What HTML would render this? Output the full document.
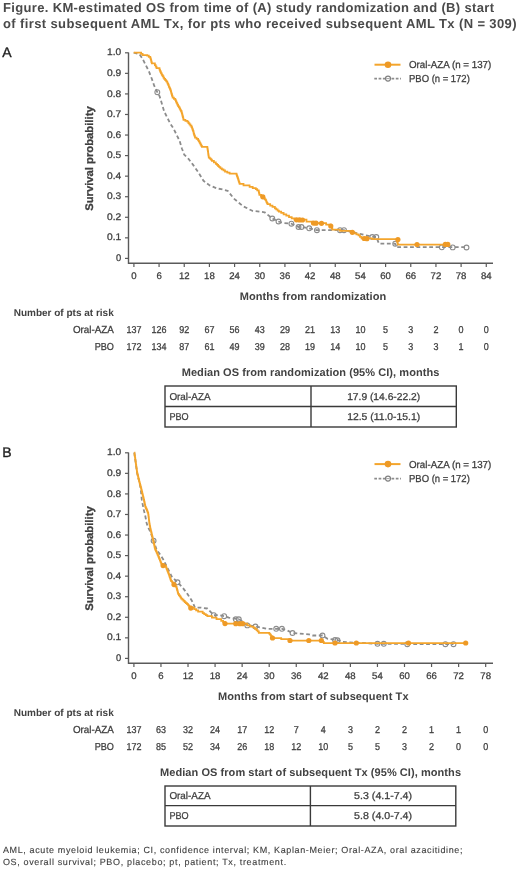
<!DOCTYPE html>
<html><head><meta charset="utf-8"><title>KM-estimated OS</title>
<style>
html,body{margin:0;padding:0;background:#fff;}
body{width:520px;height:869px;overflow:hidden;font-family:"Liberation Sans", sans-serif;}
svg{display:block;will-change:transform;}
</style></head><body>
<svg width="520" height="869" viewBox="0 0 520 869" text-rendering="geometricPrecision" font-family='"Liberation Sans", sans-serif'>
<rect width="520" height="869" fill="#fff"/>
<text x="3" y="12" font-size="13" font-weight="bold" text-anchor="start" fill="#4a4a4a" textLength="491" lengthAdjust="spacing">Figure. KM-estimated OS from time of (A) study randomization and (B) start</text>
<text x="3" y="27.7" font-size="13" font-weight="bold" text-anchor="start" fill="#4a4a4a" textLength="513.5" lengthAdjust="spacing">of first subsequent AML Tx, for pts who received subsequent AML Tx (N = 309)</text>
<text x="2.2" y="56.8" font-size="14" font-weight="normal" text-anchor="start" fill="#1e1e1e" stroke="#1e1e1e" stroke-width="0.35">A</text>
<path d="M128.5 52.4 V263.3 H493" stroke="#5a5a5a" stroke-width="1.4" fill="none"/>
<path d="M125 258.40 H128.5" stroke="#5a5a5a" stroke-width="1.2"/>
<text x="121.2" y="261.0" font-size="9.6" font-weight="normal" text-anchor="end" fill="#3f3f3f" textLength="5.2" lengthAdjust="spacingAndGlyphs" stroke="#3f3f3f" stroke-width="0.28">0</text>
<path d="M125 237.84 H128.5" stroke="#5a5a5a" stroke-width="1.2"/>
<text x="121.2" y="240.43999999999997" font-size="9.6" font-weight="normal" text-anchor="end" fill="#3f3f3f" textLength="14.2" lengthAdjust="spacingAndGlyphs" stroke="#3f3f3f" stroke-width="0.28">0.1</text>
<path d="M125 217.28 H128.5" stroke="#5a5a5a" stroke-width="1.2"/>
<text x="121.2" y="219.87999999999997" font-size="9.6" font-weight="normal" text-anchor="end" fill="#3f3f3f" textLength="14.2" lengthAdjust="spacingAndGlyphs" stroke="#3f3f3f" stroke-width="0.28">0.2</text>
<path d="M125 196.72 H128.5" stroke="#5a5a5a" stroke-width="1.2"/>
<text x="121.2" y="199.31999999999996" font-size="9.6" font-weight="normal" text-anchor="end" fill="#3f3f3f" textLength="14.2" lengthAdjust="spacingAndGlyphs" stroke="#3f3f3f" stroke-width="0.28">0.3</text>
<path d="M125 176.16 H128.5" stroke="#5a5a5a" stroke-width="1.2"/>
<text x="121.2" y="178.75999999999996" font-size="9.6" font-weight="normal" text-anchor="end" fill="#3f3f3f" textLength="14.2" lengthAdjust="spacingAndGlyphs" stroke="#3f3f3f" stroke-width="0.28">0.4</text>
<path d="M125 155.60 H128.5" stroke="#5a5a5a" stroke-width="1.2"/>
<text x="121.2" y="158.19999999999996" font-size="9.6" font-weight="normal" text-anchor="end" fill="#3f3f3f" textLength="14.2" lengthAdjust="spacingAndGlyphs" stroke="#3f3f3f" stroke-width="0.28">0.5</text>
<path d="M125 135.04 H128.5" stroke="#5a5a5a" stroke-width="1.2"/>
<text x="121.2" y="137.64" font-size="9.6" font-weight="normal" text-anchor="end" fill="#3f3f3f" textLength="14.2" lengthAdjust="spacingAndGlyphs" stroke="#3f3f3f" stroke-width="0.28">0.6</text>
<path d="M125 114.48 H128.5" stroke="#5a5a5a" stroke-width="1.2"/>
<text x="121.2" y="117.07999999999998" font-size="9.6" font-weight="normal" text-anchor="end" fill="#3f3f3f" textLength="14.2" lengthAdjust="spacingAndGlyphs" stroke="#3f3f3f" stroke-width="0.28">0.7</text>
<path d="M125 93.92 H128.5" stroke="#5a5a5a" stroke-width="1.2"/>
<text x="121.2" y="96.51999999999995" font-size="9.6" font-weight="normal" text-anchor="end" fill="#3f3f3f" textLength="14.2" lengthAdjust="spacingAndGlyphs" stroke="#3f3f3f" stroke-width="0.28">0.8</text>
<path d="M125 73.36 H128.5" stroke="#5a5a5a" stroke-width="1.2"/>
<text x="121.2" y="75.95999999999998" font-size="9.6" font-weight="normal" text-anchor="end" fill="#3f3f3f" textLength="14.2" lengthAdjust="spacingAndGlyphs" stroke="#3f3f3f" stroke-width="0.28">0.9</text>
<path d="M125 52.80 H128.5" stroke="#5a5a5a" stroke-width="1.2"/>
<text x="121.2" y="55.399999999999984" font-size="9.6" font-weight="normal" text-anchor="end" fill="#3f3f3f" textLength="14.2" lengthAdjust="spacingAndGlyphs" stroke="#3f3f3f" stroke-width="0.28">1.0</text>
<path d="M133.90 263.3 V267" stroke="#5a5a5a" stroke-width="1.2"/>
<text x="133.9" y="279.4" font-size="9.6" font-weight="normal" text-anchor="middle" fill="#3f3f3f" stroke="#3f3f3f" stroke-width="0.28">0</text>
<path d="M159.07 263.3 V267" stroke="#5a5a5a" stroke-width="1.2"/>
<text x="159.07" y="279.4" font-size="9.6" font-weight="normal" text-anchor="middle" fill="#3f3f3f" stroke="#3f3f3f" stroke-width="0.28">6</text>
<path d="M184.24 263.3 V267" stroke="#5a5a5a" stroke-width="1.2"/>
<text x="184.24" y="279.4" font-size="9.6" font-weight="normal" text-anchor="middle" fill="#3f3f3f" stroke="#3f3f3f" stroke-width="0.28">12</text>
<path d="M209.41 263.3 V267" stroke="#5a5a5a" stroke-width="1.2"/>
<text x="209.41000000000003" y="279.4" font-size="9.6" font-weight="normal" text-anchor="middle" fill="#3f3f3f" stroke="#3f3f3f" stroke-width="0.28">18</text>
<path d="M234.58 263.3 V267" stroke="#5a5a5a" stroke-width="1.2"/>
<text x="234.58" y="279.4" font-size="9.6" font-weight="normal" text-anchor="middle" fill="#3f3f3f" stroke="#3f3f3f" stroke-width="0.28">24</text>
<path d="M259.75 263.3 V267" stroke="#5a5a5a" stroke-width="1.2"/>
<text x="259.75" y="279.4" font-size="9.6" font-weight="normal" text-anchor="middle" fill="#3f3f3f" stroke="#3f3f3f" stroke-width="0.28">30</text>
<path d="M284.92 263.3 V267" stroke="#5a5a5a" stroke-width="1.2"/>
<text x="284.92" y="279.4" font-size="9.6" font-weight="normal" text-anchor="middle" fill="#3f3f3f" stroke="#3f3f3f" stroke-width="0.28">36</text>
<path d="M310.09 263.3 V267" stroke="#5a5a5a" stroke-width="1.2"/>
<text x="310.09000000000003" y="279.4" font-size="9.6" font-weight="normal" text-anchor="middle" fill="#3f3f3f" stroke="#3f3f3f" stroke-width="0.28">42</text>
<path d="M335.26 263.3 V267" stroke="#5a5a5a" stroke-width="1.2"/>
<text x="335.26" y="279.4" font-size="9.6" font-weight="normal" text-anchor="middle" fill="#3f3f3f" stroke="#3f3f3f" stroke-width="0.28">48</text>
<path d="M360.43 263.3 V267" stroke="#5a5a5a" stroke-width="1.2"/>
<text x="360.43000000000006" y="279.4" font-size="9.6" font-weight="normal" text-anchor="middle" fill="#3f3f3f" stroke="#3f3f3f" stroke-width="0.28">54</text>
<path d="M385.60 263.3 V267" stroke="#5a5a5a" stroke-width="1.2"/>
<text x="385.6" y="279.4" font-size="9.6" font-weight="normal" text-anchor="middle" fill="#3f3f3f" stroke="#3f3f3f" stroke-width="0.28">60</text>
<path d="M410.77 263.3 V267" stroke="#5a5a5a" stroke-width="1.2"/>
<text x="410.77" y="279.4" font-size="9.6" font-weight="normal" text-anchor="middle" fill="#3f3f3f" stroke="#3f3f3f" stroke-width="0.28">66</text>
<path d="M435.94 263.3 V267" stroke="#5a5a5a" stroke-width="1.2"/>
<text x="435.94000000000005" y="279.4" font-size="9.6" font-weight="normal" text-anchor="middle" fill="#3f3f3f" stroke="#3f3f3f" stroke-width="0.28">72</text>
<path d="M461.11 263.3 V267" stroke="#5a5a5a" stroke-width="1.2"/>
<text x="461.11" y="279.4" font-size="9.6" font-weight="normal" text-anchor="middle" fill="#3f3f3f" stroke="#3f3f3f" stroke-width="0.28">78</text>
<path d="M486.28 263.3 V267" stroke="#5a5a5a" stroke-width="1.2"/>
<text x="486.28" y="279.4" font-size="9.6" font-weight="normal" text-anchor="middle" fill="#3f3f3f" stroke="#3f3f3f" stroke-width="0.28">84</text>
<text transform="translate(93.2 158.6) rotate(-90)" font-size="11" font-weight="bold" text-anchor="middle" fill="#3f3f3f" textLength="104.5" lengthAdjust="spacingAndGlyphs" stroke="#3f3f3f" stroke-width="0.3">Survival probability</text>
<text x="239.8" y="299.7" font-size="11" font-weight="bold" text-anchor="start" fill="#424242" textLength="146.4" lengthAdjust="spacing">Months from randomization</text>
<path d="M374.5 64.7 H400.5" stroke="#f4a52c" stroke-width="2"/>
<circle cx="388" cy="64.7" r="3.3" fill="#ee9a26"/>
<path d="M374.3 78.6 H401" stroke="#8c8c8c" stroke-width="1.8" stroke-dasharray="2.7 1.6"/>
<circle cx="388" cy="78.6" r="2.5" fill="#fff" stroke="#808080" stroke-width="1.2"/>
<path d="M386.3 78.6 H389.7" stroke="#999" stroke-width="0.9"/>
<text x="409" y="68.3" font-size="10.1" font-weight="normal" text-anchor="start" fill="#3f3f3f" textLength="82.3" lengthAdjust="spacingAndGlyphs" stroke="#3f3f3f" stroke-width="0.28">Oral-AZA (n = 137)</text>
<text x="409" y="82.2" font-size="10.1" font-weight="normal" text-anchor="start" fill="#3f3f3f" textLength="60.8" lengthAdjust="spacingAndGlyphs" stroke="#3f3f3f" stroke-width="0.28">PBO (n = 172)</text>
<polyline points="133.7,52.6 139.5,54.2 142.6,58.8 145.7,65.0 148.8,71.0 151.8,78.8 154.2,85.7 157.3,92.2 159.6,96.2 161.9,103.8 164.2,111.5 167.3,117.7 170.4,123.8 173.5,128.5 176.5,134.6 179.6,140.8 181.9,148.5 184.2,154.6 188.8,159.2 193.5,165.4 198.8,173.1 203.5,180.8 209.6,185.4 217.3,188.5 221.2,189.2 227.7,190.8 233.8,198.5 243.0,206.2 252.3,210.8 264.6,212.3 272.3,218.5 278.5,221.5 283.0,223.0 291.4,223.7 298.5,227.0 301.5,227.0 309.2,228.3 316.9,230.2 326.2,230.2 341.0,230.2 344.0,230.2 371.9,236.7 376.3,237.0 379.0,243.7 395.2,243.7 396.5,247.2 466.5,247.2" fill="none" stroke="#8c8c8c" stroke-width="1.8" stroke-dasharray="3.8 2.6" stroke-linejoin="round"/>
<circle cx="157.3" cy="92.2" r="2.4" fill="none" stroke="#8c8c8c" stroke-width="1.1"/>
<circle cx="272.3" cy="218.5" r="2.4" fill="none" stroke="#8c8c8c" stroke-width="1.1"/>
<circle cx="278.5" cy="221.5" r="2.4" fill="none" stroke="#8c8c8c" stroke-width="1.1"/>
<circle cx="291.4" cy="223.7" r="2.4" fill="none" stroke="#8c8c8c" stroke-width="1.1"/>
<circle cx="298.5" cy="227.0" r="2.4" fill="none" stroke="#8c8c8c" stroke-width="1.1"/>
<circle cx="301.5" cy="227.0" r="2.4" fill="none" stroke="#8c8c8c" stroke-width="1.1"/>
<circle cx="309.2" cy="228.3" r="2.4" fill="none" stroke="#8c8c8c" stroke-width="1.1"/>
<circle cx="316.9" cy="230.2" r="2.4" fill="none" stroke="#8c8c8c" stroke-width="1.1"/>
<circle cx="340" cy="230.2" r="2.4" fill="none" stroke="#8c8c8c" stroke-width="1.1"/>
<circle cx="344" cy="230.2" r="2.4" fill="none" stroke="#8c8c8c" stroke-width="1.1"/>
<circle cx="372.3" cy="237.0" r="2.4" fill="none" stroke="#8c8c8c" stroke-width="1.1"/>
<circle cx="376.3" cy="237.0" r="2.4" fill="none" stroke="#8c8c8c" stroke-width="1.1"/>
<circle cx="395.2" cy="243.7" r="2.4" fill="none" stroke="#8c8c8c" stroke-width="1.1"/>
<circle cx="441.8" cy="247.3" r="2.4" fill="none" stroke="#8c8c8c" stroke-width="1.1"/>
<circle cx="452.7" cy="247.4" r="2.4" fill="none" stroke="#8c8c8c" stroke-width="1.1"/>
<circle cx="466.5" cy="247.5" r="2.4" fill="none" stroke="#8c8c8c" stroke-width="1.1"/>
<path d="M133.7 52.6H139.5H141.1V53.9H142.6V55.0H147.2V55.7H148.8V56.9H150.3V58.0H150.7V59.4H151.1V60.7H151.4V62.0H151.8V63.4H154.9V65.0H155.7V66.5H156.5V68.0H159.5V69.5H160.0V70.8H160.5V72.1H161.0V73.4H161.8V74.8H162.6V76.1H163.4V77.5H164.2V78.8H165.2V80.1H166.2V81.3H167.2V82.6H167.7V83.9H168.3V85.2H168.8V86.5H169.3V87.7H169.9V88.8H170.4V90.0H170.8V91.2H171.1V92.5H171.5V93.8H171.9V95.0H172.2V96.2H172.6V97.5H173.9V98.8H175.3V100.2H175.9V101.4H176.4V102.5H177.0V103.7H177.5V104.8H178.1V106.0H178.8V107.2H179.5V108.4H180.1V109.6H180.8V110.8H181.5V112.0H181.8V113.3H182.2V114.6H182.5V115.9H182.8V117.2H183.2V118.5H183.5V119.8H185.4V120.8H187.3V121.7H188.4V123.0H189.4V124.3H190.4V125.7H191.5V127.0H192.1V128.5H192.7V130.0H193.1V131.2H193.5V132.5H193.8V133.8H194.2V135.0H194.6V136.2H195.0V137.5H196.6V138.8H198.1V140.0H198.7V141.2H199.4V142.3H200.0V143.4H200.6V144.6H201.3V145.8H201.9V146.9H207.3V147.7H207.5V148.9H207.7V150.1H207.9V151.4H208.1V152.6H208.2V153.8H208.4V155.1H208.6V156.3H208.8V157.5H209.8V158.6H210.9V159.7H211.9V160.8H213.9V162.3H215.8V163.8H217.0V164.9H218.1V166.1H219.2V167.2H220.4V168.3H221.9V169.4H223.5V170.4H225.0V171.5H227.3V172.6H229.6V173.6H236.5V174.6H236.9V175.8H237.3V176.9H237.7V178.1H238.1V179.2H238.4V180.3H238.8V181.5H239.2V182.7H239.6V183.8H243.5V185.4H249.6V186.9H252.7V188.1H255.8V189.2H257.2V190.3H258.7V191.4H258.9V192.5H259.2V193.7H259.4V194.8H261.1V195.8H262.8V196.8H263.7V197.9H264.6V199.1H265.5V200.2H266.2V201.5H266.8V202.9H267.5V204.2H270.2V205.6H272.5V206.9H274.9V208.3H276.2V209.4H277.6V210.5H278.9V211.6H281.2V212.9H283.6V214.3H286.3V215.7H289.0V217.0H291.7V218.3H294.4V219.7H304.6H306.5V221.7H311.9V223.1H321.5H326.1V224.7H330.8V226.0H331.3V227.2H331.8V228.3H332.3V229.5H340.0V230.8H350.8H352.3V232.3H354.4V233.3H356.4V234.4H358.5V235.4H360.0V236.9H361.5V238.3H372.3V239.0H396.5H396.8V240.1H397.1V241.2H397.3V242.3H397.6V243.4H397.9V244.5H447.8" fill="none" stroke="#f4a52c" stroke-width="1.75" stroke-linejoin="miter"/>
<circle cx="262.8" cy="196.8" r="2.6" fill="#ee9a26"/>
<circle cx="296.5" cy="219.8" r="2.6" fill="#ee9a26"/>
<circle cx="299.5" cy="219.9" r="2.6" fill="#ee9a26"/>
<circle cx="302.5" cy="220.0" r="2.6" fill="#ee9a26"/>
<circle cx="313.5" cy="223.1" r="2.6" fill="#ee9a26"/>
<circle cx="316" cy="223.2" r="2.6" fill="#ee9a26"/>
<circle cx="321.5" cy="223.3" r="2.6" fill="#ee9a26"/>
<circle cx="330.8" cy="226.0" r="2.6" fill="#ee9a26"/>
<circle cx="352.3" cy="232.3" r="2.6" fill="#ee9a26"/>
<circle cx="364.2" cy="238.5" r="2.6" fill="#ee9a26"/>
<circle cx="366.9" cy="238.7" r="2.6" fill="#ee9a26"/>
<circle cx="397.9" cy="239.5" r="2.6" fill="#ee9a26"/>
<circle cx="417" cy="244.5" r="2.6" fill="#ee9a26"/>
<circle cx="445.3" cy="244.4" r="2.6" fill="#ee9a26"/>
<circle cx="447.8" cy="244.4" r="2.6" fill="#ee9a26"/>
<text x="13.7" y="315.5" font-size="10" font-weight="bold" text-anchor="start" fill="#424242" textLength="100" lengthAdjust="spacing">Number of pts at risk</text>
<text x="113.9" y="333.3" font-size="10.2" font-weight="normal" text-anchor="end" fill="#3f3f3f" textLength="41" lengthAdjust="spacingAndGlyphs" stroke="#3f3f3f" stroke-width="0.28">Oral-AZA</text>
<text x="113.9" y="350.1" font-size="10.1" font-weight="normal" text-anchor="end" fill="#3f3f3f" textLength="19.2" lengthAdjust="spacingAndGlyphs" stroke="#3f3f3f" stroke-width="0.28">PBO</text>
<text x="133.9" y="332.9" font-size="10" font-weight="normal" text-anchor="middle" fill="#3f3f3f" textLength="15.0" lengthAdjust="spacingAndGlyphs" stroke="#3f3f3f" stroke-width="0.28">137</text>
<text x="133.9" y="349.7" font-size="10" font-weight="normal" text-anchor="middle" fill="#3f3f3f" textLength="15.0" lengthAdjust="spacingAndGlyphs" stroke="#3f3f3f" stroke-width="0.28">172</text>
<text x="159.07" y="332.9" font-size="10" font-weight="normal" text-anchor="middle" fill="#3f3f3f" textLength="15.0" lengthAdjust="spacingAndGlyphs" stroke="#3f3f3f" stroke-width="0.28">126</text>
<text x="159.07" y="349.7" font-size="10" font-weight="normal" text-anchor="middle" fill="#3f3f3f" textLength="15.0" lengthAdjust="spacingAndGlyphs" stroke="#3f3f3f" stroke-width="0.28">134</text>
<text x="184.24" y="332.9" font-size="10" font-weight="normal" text-anchor="middle" fill="#3f3f3f" textLength="10.0" lengthAdjust="spacingAndGlyphs" stroke="#3f3f3f" stroke-width="0.28">92</text>
<text x="184.24" y="349.7" font-size="10" font-weight="normal" text-anchor="middle" fill="#3f3f3f" textLength="10.0" lengthAdjust="spacingAndGlyphs" stroke="#3f3f3f" stroke-width="0.28">87</text>
<text x="209.41000000000003" y="332.9" font-size="10" font-weight="normal" text-anchor="middle" fill="#3f3f3f" textLength="10.0" lengthAdjust="spacingAndGlyphs" stroke="#3f3f3f" stroke-width="0.28">67</text>
<text x="209.41000000000003" y="349.7" font-size="10" font-weight="normal" text-anchor="middle" fill="#3f3f3f" textLength="10.0" lengthAdjust="spacingAndGlyphs" stroke="#3f3f3f" stroke-width="0.28">61</text>
<text x="234.58" y="332.9" font-size="10" font-weight="normal" text-anchor="middle" fill="#3f3f3f" textLength="10.0" lengthAdjust="spacingAndGlyphs" stroke="#3f3f3f" stroke-width="0.28">56</text>
<text x="234.58" y="349.7" font-size="10" font-weight="normal" text-anchor="middle" fill="#3f3f3f" textLength="10.0" lengthAdjust="spacingAndGlyphs" stroke="#3f3f3f" stroke-width="0.28">49</text>
<text x="259.75" y="332.9" font-size="10" font-weight="normal" text-anchor="middle" fill="#3f3f3f" textLength="10.0" lengthAdjust="spacingAndGlyphs" stroke="#3f3f3f" stroke-width="0.28">43</text>
<text x="259.75" y="349.7" font-size="10" font-weight="normal" text-anchor="middle" fill="#3f3f3f" textLength="10.0" lengthAdjust="spacingAndGlyphs" stroke="#3f3f3f" stroke-width="0.28">39</text>
<text x="284.92" y="332.9" font-size="10" font-weight="normal" text-anchor="middle" fill="#3f3f3f" textLength="10.0" lengthAdjust="spacingAndGlyphs" stroke="#3f3f3f" stroke-width="0.28">29</text>
<text x="284.92" y="349.7" font-size="10" font-weight="normal" text-anchor="middle" fill="#3f3f3f" textLength="10.0" lengthAdjust="spacingAndGlyphs" stroke="#3f3f3f" stroke-width="0.28">28</text>
<text x="310.09000000000003" y="332.9" font-size="10" font-weight="normal" text-anchor="middle" fill="#3f3f3f" textLength="10.0" lengthAdjust="spacingAndGlyphs" stroke="#3f3f3f" stroke-width="0.28">21</text>
<text x="310.09000000000003" y="349.7" font-size="10" font-weight="normal" text-anchor="middle" fill="#3f3f3f" textLength="10.0" lengthAdjust="spacingAndGlyphs" stroke="#3f3f3f" stroke-width="0.28">19</text>
<text x="335.26" y="332.9" font-size="10" font-weight="normal" text-anchor="middle" fill="#3f3f3f" textLength="10.0" lengthAdjust="spacingAndGlyphs" stroke="#3f3f3f" stroke-width="0.28">13</text>
<text x="335.26" y="349.7" font-size="10" font-weight="normal" text-anchor="middle" fill="#3f3f3f" textLength="10.0" lengthAdjust="spacingAndGlyphs" stroke="#3f3f3f" stroke-width="0.28">14</text>
<text x="360.43000000000006" y="332.9" font-size="10" font-weight="normal" text-anchor="middle" fill="#3f3f3f" textLength="10.0" lengthAdjust="spacingAndGlyphs" stroke="#3f3f3f" stroke-width="0.28">10</text>
<text x="360.43000000000006" y="349.7" font-size="10" font-weight="normal" text-anchor="middle" fill="#3f3f3f" textLength="10.0" lengthAdjust="spacingAndGlyphs" stroke="#3f3f3f" stroke-width="0.28">10</text>
<text x="385.6" y="332.9" font-size="10" font-weight="normal" text-anchor="middle" fill="#3f3f3f" textLength="5.0" lengthAdjust="spacingAndGlyphs" stroke="#3f3f3f" stroke-width="0.28">5</text>
<text x="385.6" y="349.7" font-size="10" font-weight="normal" text-anchor="middle" fill="#3f3f3f" textLength="5.0" lengthAdjust="spacingAndGlyphs" stroke="#3f3f3f" stroke-width="0.28">5</text>
<text x="410.77" y="332.9" font-size="10" font-weight="normal" text-anchor="middle" fill="#3f3f3f" textLength="5.0" lengthAdjust="spacingAndGlyphs" stroke="#3f3f3f" stroke-width="0.28">3</text>
<text x="410.77" y="349.7" font-size="10" font-weight="normal" text-anchor="middle" fill="#3f3f3f" textLength="5.0" lengthAdjust="spacingAndGlyphs" stroke="#3f3f3f" stroke-width="0.28">3</text>
<text x="435.94000000000005" y="332.9" font-size="10" font-weight="normal" text-anchor="middle" fill="#3f3f3f" textLength="5.0" lengthAdjust="spacingAndGlyphs" stroke="#3f3f3f" stroke-width="0.28">2</text>
<text x="435.94000000000005" y="349.7" font-size="10" font-weight="normal" text-anchor="middle" fill="#3f3f3f" textLength="5.0" lengthAdjust="spacingAndGlyphs" stroke="#3f3f3f" stroke-width="0.28">3</text>
<text x="461.11" y="332.9" font-size="10" font-weight="normal" text-anchor="middle" fill="#3f3f3f" textLength="5.0" lengthAdjust="spacingAndGlyphs" stroke="#3f3f3f" stroke-width="0.28">0</text>
<text x="461.11" y="349.7" font-size="10" font-weight="normal" text-anchor="middle" fill="#3f3f3f" textLength="5.0" lengthAdjust="spacingAndGlyphs" stroke="#3f3f3f" stroke-width="0.28">1</text>
<text x="486.28" y="332.9" font-size="10" font-weight="normal" text-anchor="middle" fill="#3f3f3f" textLength="5.0" lengthAdjust="spacingAndGlyphs" stroke="#3f3f3f" stroke-width="0.28">0</text>
<text x="486.28" y="349.7" font-size="10" font-weight="normal" text-anchor="middle" fill="#3f3f3f" textLength="5.0" lengthAdjust="spacingAndGlyphs" stroke="#3f3f3f" stroke-width="0.28">0</text>
<text x="181.7" y="376.2" font-size="11" font-weight="bold" text-anchor="start" fill="#424242" textLength="257.7" lengthAdjust="spacing">Median OS from randomization (95% CI), months</text>
<rect x="165" y="386" width="291.3" height="41" fill="none" stroke="#3a3a3a" stroke-width="1.4"/>
<path d="M165 406.5 H456.3 M311 386 V427" stroke="#3a3a3a" stroke-width="1.4"/>
<text x="169.4" y="399.75" font-size="10" font-weight="normal" text-anchor="start" fill="#3f3f3f" textLength="41.2" lengthAdjust="spacingAndGlyphs" stroke="#3f3f3f" stroke-width="0.28">Oral-AZA</text>
<text x="169.4" y="420.25" font-size="10" font-weight="normal" text-anchor="start" fill="#3f3f3f" textLength="19.2" lengthAdjust="spacingAndGlyphs" stroke="#3f3f3f" stroke-width="0.28">PBO</text>
<text x="383.65" y="399.75" font-size="10" font-weight="normal" text-anchor="middle" fill="#3f3f3f" textLength="73" lengthAdjust="spacingAndGlyphs" stroke="#3f3f3f" stroke-width="0.28">17.9 (14.6-22.2)</text>
<text x="383.65" y="420.25" font-size="10" font-weight="normal" text-anchor="middle" fill="#3f3f3f" textLength="73" lengthAdjust="spacingAndGlyphs" stroke="#3f3f3f" stroke-width="0.28">12.5 (11.0-15.1)</text>
<text x="2.2" y="456.8" font-size="14" font-weight="normal" text-anchor="start" fill="#1e1e1e" stroke="#1e1e1e" stroke-width="0.35">B</text>
<path d="M128.5 452.4 V663.3 H493" stroke="#5a5a5a" stroke-width="1.4" fill="none"/>
<path d="M125 658.40 H128.5" stroke="#5a5a5a" stroke-width="1.2"/>
<text x="121.2" y="661.0" font-size="9.6" font-weight="normal" text-anchor="end" fill="#3f3f3f" textLength="5.2" lengthAdjust="spacingAndGlyphs" stroke="#3f3f3f" stroke-width="0.28">0</text>
<path d="M125 637.84 H128.5" stroke="#5a5a5a" stroke-width="1.2"/>
<text x="121.2" y="640.4399999999999" font-size="9.6" font-weight="normal" text-anchor="end" fill="#3f3f3f" textLength="14.2" lengthAdjust="spacingAndGlyphs" stroke="#3f3f3f" stroke-width="0.28">0.1</text>
<path d="M125 617.28 H128.5" stroke="#5a5a5a" stroke-width="1.2"/>
<text x="121.2" y="619.88" font-size="9.6" font-weight="normal" text-anchor="end" fill="#3f3f3f" textLength="14.2" lengthAdjust="spacingAndGlyphs" stroke="#3f3f3f" stroke-width="0.28">0.2</text>
<path d="M125 596.72 H128.5" stroke="#5a5a5a" stroke-width="1.2"/>
<text x="121.2" y="599.32" font-size="9.6" font-weight="normal" text-anchor="end" fill="#3f3f3f" textLength="14.2" lengthAdjust="spacingAndGlyphs" stroke="#3f3f3f" stroke-width="0.28">0.3</text>
<path d="M125 576.16 H128.5" stroke="#5a5a5a" stroke-width="1.2"/>
<text x="121.2" y="578.76" font-size="9.6" font-weight="normal" text-anchor="end" fill="#3f3f3f" textLength="14.2" lengthAdjust="spacingAndGlyphs" stroke="#3f3f3f" stroke-width="0.28">0.4</text>
<path d="M125 555.60 H128.5" stroke="#5a5a5a" stroke-width="1.2"/>
<text x="121.2" y="558.2" font-size="9.6" font-weight="normal" text-anchor="end" fill="#3f3f3f" textLength="14.2" lengthAdjust="spacingAndGlyphs" stroke="#3f3f3f" stroke-width="0.28">0.5</text>
<path d="M125 535.04 H128.5" stroke="#5a5a5a" stroke-width="1.2"/>
<text x="121.2" y="537.64" font-size="9.6" font-weight="normal" text-anchor="end" fill="#3f3f3f" textLength="14.2" lengthAdjust="spacingAndGlyphs" stroke="#3f3f3f" stroke-width="0.28">0.6</text>
<path d="M125 514.48 H128.5" stroke="#5a5a5a" stroke-width="1.2"/>
<text x="121.2" y="517.08" font-size="9.6" font-weight="normal" text-anchor="end" fill="#3f3f3f" textLength="14.2" lengthAdjust="spacingAndGlyphs" stroke="#3f3f3f" stroke-width="0.28">0.7</text>
<path d="M125 493.92 H128.5" stroke="#5a5a5a" stroke-width="1.2"/>
<text x="121.2" y="496.52" font-size="9.6" font-weight="normal" text-anchor="end" fill="#3f3f3f" textLength="14.2" lengthAdjust="spacingAndGlyphs" stroke="#3f3f3f" stroke-width="0.28">0.8</text>
<path d="M125 473.36 H128.5" stroke="#5a5a5a" stroke-width="1.2"/>
<text x="121.2" y="475.96000000000004" font-size="9.6" font-weight="normal" text-anchor="end" fill="#3f3f3f" textLength="14.2" lengthAdjust="spacingAndGlyphs" stroke="#3f3f3f" stroke-width="0.28">0.9</text>
<path d="M125 452.80 H128.5" stroke="#5a5a5a" stroke-width="1.2"/>
<text x="121.2" y="455.4" font-size="9.6" font-weight="normal" text-anchor="end" fill="#3f3f3f" textLength="14.2" lengthAdjust="spacingAndGlyphs" stroke="#3f3f3f" stroke-width="0.28">1.0</text>
<path d="M133.90 663.3 V667" stroke="#5a5a5a" stroke-width="1.2"/>
<text x="133.9" y="679.4" font-size="9.6" font-weight="normal" text-anchor="middle" fill="#3f3f3f" stroke="#3f3f3f" stroke-width="0.28">0</text>
<path d="M160.96 663.3 V667" stroke="#5a5a5a" stroke-width="1.2"/>
<text x="160.96" y="679.4" font-size="9.6" font-weight="normal" text-anchor="middle" fill="#3f3f3f" stroke="#3f3f3f" stroke-width="0.28">6</text>
<path d="M188.02 663.3 V667" stroke="#5a5a5a" stroke-width="1.2"/>
<text x="188.02" y="679.4" font-size="9.6" font-weight="normal" text-anchor="middle" fill="#3f3f3f" stroke="#3f3f3f" stroke-width="0.28">12</text>
<path d="M215.08 663.3 V667" stroke="#5a5a5a" stroke-width="1.2"/>
<text x="215.07999999999998" y="679.4" font-size="9.6" font-weight="normal" text-anchor="middle" fill="#3f3f3f" stroke="#3f3f3f" stroke-width="0.28">18</text>
<path d="M242.14 663.3 V667" stroke="#5a5a5a" stroke-width="1.2"/>
<text x="242.14" y="679.4" font-size="9.6" font-weight="normal" text-anchor="middle" fill="#3f3f3f" stroke="#3f3f3f" stroke-width="0.28">24</text>
<path d="M269.20 663.3 V667" stroke="#5a5a5a" stroke-width="1.2"/>
<text x="269.2" y="679.4" font-size="9.6" font-weight="normal" text-anchor="middle" fill="#3f3f3f" stroke="#3f3f3f" stroke-width="0.28">30</text>
<path d="M296.26 663.3 V667" stroke="#5a5a5a" stroke-width="1.2"/>
<text x="296.26" y="679.4" font-size="9.6" font-weight="normal" text-anchor="middle" fill="#3f3f3f" stroke="#3f3f3f" stroke-width="0.28">36</text>
<path d="M323.32 663.3 V667" stroke="#5a5a5a" stroke-width="1.2"/>
<text x="323.32" y="679.4" font-size="9.6" font-weight="normal" text-anchor="middle" fill="#3f3f3f" stroke="#3f3f3f" stroke-width="0.28">42</text>
<path d="M350.38 663.3 V667" stroke="#5a5a5a" stroke-width="1.2"/>
<text x="350.38" y="679.4" font-size="9.6" font-weight="normal" text-anchor="middle" fill="#3f3f3f" stroke="#3f3f3f" stroke-width="0.28">48</text>
<path d="M377.44 663.3 V667" stroke="#5a5a5a" stroke-width="1.2"/>
<text x="377.44" y="679.4" font-size="9.6" font-weight="normal" text-anchor="middle" fill="#3f3f3f" stroke="#3f3f3f" stroke-width="0.28">54</text>
<path d="M404.50 663.3 V667" stroke="#5a5a5a" stroke-width="1.2"/>
<text x="404.5" y="679.4" font-size="9.6" font-weight="normal" text-anchor="middle" fill="#3f3f3f" stroke="#3f3f3f" stroke-width="0.28">60</text>
<path d="M431.56 663.3 V667" stroke="#5a5a5a" stroke-width="1.2"/>
<text x="431.55999999999995" y="679.4" font-size="9.6" font-weight="normal" text-anchor="middle" fill="#3f3f3f" stroke="#3f3f3f" stroke-width="0.28">66</text>
<path d="M458.62 663.3 V667" stroke="#5a5a5a" stroke-width="1.2"/>
<text x="458.62" y="679.4" font-size="9.6" font-weight="normal" text-anchor="middle" fill="#3f3f3f" stroke="#3f3f3f" stroke-width="0.28">72</text>
<path d="M485.68 663.3 V667" stroke="#5a5a5a" stroke-width="1.2"/>
<text x="485.67999999999995" y="679.4" font-size="9.6" font-weight="normal" text-anchor="middle" fill="#3f3f3f" stroke="#3f3f3f" stroke-width="0.28">78</text>
<text transform="translate(93.2 558.6) rotate(-90)" font-size="11" font-weight="bold" text-anchor="middle" fill="#3f3f3f" textLength="104.5" lengthAdjust="spacingAndGlyphs" stroke="#3f3f3f" stroke-width="0.3">Survival probability</text>
<text x="218" y="699.7" font-size="11" font-weight="bold" text-anchor="start" fill="#424242" textLength="190.5" lengthAdjust="spacing">Months from start of subsequent Tx</text>
<path d="M374.5 464.09999999999997 H400.5" stroke="#f4a52c" stroke-width="2"/>
<circle cx="388" cy="464.09999999999997" r="3.3" fill="#ee9a26"/>
<path d="M374.3 478.6 H401" stroke="#8c8c8c" stroke-width="1.8" stroke-dasharray="2.7 1.6"/>
<circle cx="388" cy="478.6" r="2.5" fill="#fff" stroke="#808080" stroke-width="1.2"/>
<path d="M386.3 478.6 H389.7" stroke="#999" stroke-width="0.9"/>
<text x="409" y="468.3" font-size="10.1" font-weight="normal" text-anchor="start" fill="#3f3f3f" textLength="82.3" lengthAdjust="spacingAndGlyphs" stroke="#3f3f3f" stroke-width="0.28">Oral-AZA (n = 137)</text>
<text x="409" y="482.2" font-size="10.1" font-weight="normal" text-anchor="start" fill="#3f3f3f" textLength="60.8" lengthAdjust="spacingAndGlyphs" stroke="#3f3f3f" stroke-width="0.28">PBO (n = 172)</text>
<polyline points="134.3,452.6 137.2,473.4 139.5,482.6 140.7,488.4 141.8,499.9 143.6,509.1 145.3,516.0 146.5,522.4 147.6,526.4 150.5,532.0 153.6,540.8 156.7,550.0 160.2,554.6 163.1,559.2 167.7,568.4 171.7,576.5 177.5,582.3 182.7,587.7 187.3,593.8 191.9,600.8 195.0,607.7 201.2,607.7 207.3,608.5 213.8,615.1 218.8,615.1 224.2,616.2 228.8,617.7 238.8,619.2 242.7,621.5 247.3,625.4 255.4,626.5 266.9,628.8 281.9,628.8 286.3,630.0 292.5,633.0 308.8,634.3 312.5,635.5 322.5,635.5 327.5,638.8 337.5,640.0 342.5,642.0 377.5,643.8 453.5,644.2" fill="none" stroke="#8c8c8c" stroke-width="1.8" stroke-dasharray="3.8 2.6" stroke-linejoin="round"/>
<circle cx="153.6" cy="540.8" r="2.4" fill="none" stroke="#8c8c8c" stroke-width="1.1"/>
<circle cx="177.5" cy="582.3" r="2.4" fill="none" stroke="#8c8c8c" stroke-width="1.1"/>
<circle cx="213.8" cy="615.1" r="2.4" fill="none" stroke="#8c8c8c" stroke-width="1.1"/>
<circle cx="224.2" cy="616.2" r="2.4" fill="none" stroke="#8c8c8c" stroke-width="1.1"/>
<circle cx="235.8" cy="619.3" r="2.4" fill="none" stroke="#8c8c8c" stroke-width="1.1"/>
<circle cx="238.8" cy="619.3" r="2.4" fill="none" stroke="#8c8c8c" stroke-width="1.1"/>
<circle cx="247.3" cy="625.4" r="2.4" fill="none" stroke="#8c8c8c" stroke-width="1.1"/>
<circle cx="255.4" cy="626.5" r="2.4" fill="none" stroke="#8c8c8c" stroke-width="1.1"/>
<circle cx="276.2" cy="628.8" r="2.4" fill="none" stroke="#8c8c8c" stroke-width="1.1"/>
<circle cx="281.9" cy="628.8" r="2.4" fill="none" stroke="#8c8c8c" stroke-width="1.1"/>
<circle cx="292.5" cy="633.0" r="2.4" fill="none" stroke="#8c8c8c" stroke-width="1.1"/>
<circle cx="322.5" cy="635.5" r="2.4" fill="none" stroke="#8c8c8c" stroke-width="1.1"/>
<circle cx="335" cy="640.0" r="2.4" fill="none" stroke="#8c8c8c" stroke-width="1.1"/>
<circle cx="337.5" cy="640.3" r="2.4" fill="none" stroke="#8c8c8c" stroke-width="1.1"/>
<circle cx="377.5" cy="643.8" r="2.4" fill="none" stroke="#8c8c8c" stroke-width="1.1"/>
<circle cx="383.8" cy="643.8" r="2.4" fill="none" stroke="#8c8c8c" stroke-width="1.1"/>
<circle cx="407.3" cy="644.2" r="2.4" fill="none" stroke="#8c8c8c" stroke-width="1.1"/>
<circle cx="445.4" cy="644.2" r="2.4" fill="none" stroke="#8c8c8c" stroke-width="1.1"/>
<circle cx="453.5" cy="644.2" r="2.4" fill="none" stroke="#8c8c8c" stroke-width="1.1"/>
<path d="M134.3 452.6H134.5V453.8H134.6V455.0H134.8V456.3H135.0V457.5H135.2V458.7H135.3V459.9H135.5V461.2H135.7V462.4H135.8V463.6H136.0V464.8H136.2V466.1H136.3V467.3H136.5V468.5H136.7V469.7H136.9V471.0H137.0V472.2H137.2V473.4H137.5V474.5H137.8V475.7H138.1V476.9H138.3V478.0H138.6V479.1H138.9V480.3H139.2V481.5H139.5V482.6H139.8V483.8H140.1V484.9H140.4V486.1H140.7V487.2H141.0V488.4H141.3V489.5H141.6V490.7H141.9V491.8H142.2V493.0H142.4V494.1H142.7V495.3H143.0V496.5H143.3V497.6H143.6V498.8H143.8V499.9H144.1V501.1H144.3V502.2H144.6V503.4H144.8V504.5H145.1V505.7H145.3V506.8H145.8V508.0H146.3V509.1H146.8V510.2H147.2V511.4H147.7V512.6H148.2V513.7H148.3V514.9H148.5V516.0H148.6V517.2H148.8V518.4H148.9V519.5H149.0V520.7H149.2V521.8H149.3V523.0H149.5V524.2H149.7V525.5H150.0V526.7H150.2V528.0H150.4V529.2H150.7V530.4H151.0V531.5H151.3V532.7H151.6V533.9H151.8V535.0H152.1V536.2H152.4V537.3H152.7V538.5H153.0V539.6H153.2V540.8H153.5V541.9H153.7V543.1H154.0V544.2H154.2V545.4H154.5V546.5H154.7V547.7H155.0V548.8H155.5V550.0H156.0V551.1H156.5V552.3H157.0V553.4H157.5V554.6H158.0V555.7H158.5V556.9H159.0V558.0H159.4V559.2H159.9V560.3H160.4V561.5H160.8V562.6H161.3V563.8H162.2V564.7H163.1V565.6H166.0V567.3H166.5V568.5H166.9V569.6H167.4V570.8H167.8V571.9H168.3V573.1H168.7V574.2H169.1V575.4H169.5V576.5H169.9V577.7H170.3V578.8H170.7V580.0H171.1V581.1H172.1V582.3H173.0V583.4H174.0V584.6H174.8V585.6H175.7V586.7H176.5V587.7H176.8V588.9H177.1V590.1H177.5V591.4H177.8V592.6H178.1V593.8H178.9V595.0H179.6V596.1H180.4V597.3H181.2V598.5H182.3V599.6H183.5V600.8H184.7V602.0H185.8V603.1H187.0V604.2H188.1V605.4H189.2V606.6H190.4V607.7H194.2V609.2H196.1V610.4H198.1V611.5H202.7V613.1H204.2V614.1H205.8V615.2H207.3V616.2H211.9V617.7H216.5V619.2H221.2V620.8H223.1V622.1H225.0V623.5H243.8H247.3V625.4H250.4V626.5H253.5V627.7H255.0V628.9H256.5V630.0H257.6V631.4H258.8V632.8H269.2V633.5H270.0V634.6H270.9V635.8H271.7V636.9H272.5V638.0H281.2V639.2H290.0V640.5H321.3H322.6V641.8H323.8V643.0H465.7" fill="none" stroke="#f4a52c" stroke-width="1.75" stroke-linejoin="miter"/>
<circle cx="163.1" cy="565.6" r="2.6" fill="#ee9a26"/>
<circle cx="174" cy="584.6" r="2.6" fill="#ee9a26"/>
<circle cx="190.8" cy="608.1" r="2.6" fill="#ee9a26"/>
<circle cx="225" cy="623.6" r="2.6" fill="#ee9a26"/>
<circle cx="235.8" cy="623.7" r="2.6" fill="#ee9a26"/>
<circle cx="239.8" cy="623.7" r="2.6" fill="#ee9a26"/>
<circle cx="242.7" cy="623.7" r="2.6" fill="#ee9a26"/>
<circle cx="272.5" cy="638.0" r="2.6" fill="#ee9a26"/>
<circle cx="290" cy="640.5" r="2.6" fill="#ee9a26"/>
<circle cx="308.8" cy="640.5" r="2.6" fill="#ee9a26"/>
<circle cx="321.3" cy="640.5" r="2.6" fill="#ee9a26"/>
<circle cx="335" cy="643.0" r="2.6" fill="#ee9a26"/>
<circle cx="356.3" cy="643.0" r="2.6" fill="#ee9a26"/>
<circle cx="408.5" cy="643.0" r="2.6" fill="#ee9a26"/>
<circle cx="465.7" cy="643.0" r="2.6" fill="#ee9a26"/>
<text x="13.7" y="715.5" font-size="10" font-weight="bold" text-anchor="start" fill="#424242" textLength="100" lengthAdjust="spacing">Number of pts at risk</text>
<text x="113.9" y="733.3" font-size="10.2" font-weight="normal" text-anchor="end" fill="#3f3f3f" textLength="41" lengthAdjust="spacingAndGlyphs" stroke="#3f3f3f" stroke-width="0.28">Oral-AZA</text>
<text x="113.9" y="750.1" font-size="10.1" font-weight="normal" text-anchor="end" fill="#3f3f3f" textLength="19.2" lengthAdjust="spacingAndGlyphs" stroke="#3f3f3f" stroke-width="0.28">PBO</text>
<text x="133.9" y="732.9" font-size="10" font-weight="normal" text-anchor="middle" fill="#3f3f3f" textLength="15.0" lengthAdjust="spacingAndGlyphs" stroke="#3f3f3f" stroke-width="0.28">137</text>
<text x="133.9" y="749.7" font-size="10" font-weight="normal" text-anchor="middle" fill="#3f3f3f" textLength="15.0" lengthAdjust="spacingAndGlyphs" stroke="#3f3f3f" stroke-width="0.28">172</text>
<text x="160.96" y="732.9" font-size="10" font-weight="normal" text-anchor="middle" fill="#3f3f3f" textLength="10.0" lengthAdjust="spacingAndGlyphs" stroke="#3f3f3f" stroke-width="0.28">63</text>
<text x="160.96" y="749.7" font-size="10" font-weight="normal" text-anchor="middle" fill="#3f3f3f" textLength="10.0" lengthAdjust="spacingAndGlyphs" stroke="#3f3f3f" stroke-width="0.28">85</text>
<text x="188.02" y="732.9" font-size="10" font-weight="normal" text-anchor="middle" fill="#3f3f3f" textLength="10.0" lengthAdjust="spacingAndGlyphs" stroke="#3f3f3f" stroke-width="0.28">32</text>
<text x="188.02" y="749.7" font-size="10" font-weight="normal" text-anchor="middle" fill="#3f3f3f" textLength="10.0" lengthAdjust="spacingAndGlyphs" stroke="#3f3f3f" stroke-width="0.28">52</text>
<text x="215.07999999999998" y="732.9" font-size="10" font-weight="normal" text-anchor="middle" fill="#3f3f3f" textLength="10.0" lengthAdjust="spacingAndGlyphs" stroke="#3f3f3f" stroke-width="0.28">24</text>
<text x="215.07999999999998" y="749.7" font-size="10" font-weight="normal" text-anchor="middle" fill="#3f3f3f" textLength="10.0" lengthAdjust="spacingAndGlyphs" stroke="#3f3f3f" stroke-width="0.28">34</text>
<text x="242.14" y="732.9" font-size="10" font-weight="normal" text-anchor="middle" fill="#3f3f3f" textLength="10.0" lengthAdjust="spacingAndGlyphs" stroke="#3f3f3f" stroke-width="0.28">17</text>
<text x="242.14" y="749.7" font-size="10" font-weight="normal" text-anchor="middle" fill="#3f3f3f" textLength="10.0" lengthAdjust="spacingAndGlyphs" stroke="#3f3f3f" stroke-width="0.28">26</text>
<text x="269.2" y="732.9" font-size="10" font-weight="normal" text-anchor="middle" fill="#3f3f3f" textLength="10.0" lengthAdjust="spacingAndGlyphs" stroke="#3f3f3f" stroke-width="0.28">12</text>
<text x="269.2" y="749.7" font-size="10" font-weight="normal" text-anchor="middle" fill="#3f3f3f" textLength="10.0" lengthAdjust="spacingAndGlyphs" stroke="#3f3f3f" stroke-width="0.28">18</text>
<text x="296.26" y="732.9" font-size="10" font-weight="normal" text-anchor="middle" fill="#3f3f3f" textLength="5.0" lengthAdjust="spacingAndGlyphs" stroke="#3f3f3f" stroke-width="0.28">7</text>
<text x="296.26" y="749.7" font-size="10" font-weight="normal" text-anchor="middle" fill="#3f3f3f" textLength="10.0" lengthAdjust="spacingAndGlyphs" stroke="#3f3f3f" stroke-width="0.28">12</text>
<text x="323.32" y="732.9" font-size="10" font-weight="normal" text-anchor="middle" fill="#3f3f3f" textLength="5.0" lengthAdjust="spacingAndGlyphs" stroke="#3f3f3f" stroke-width="0.28">4</text>
<text x="323.32" y="749.7" font-size="10" font-weight="normal" text-anchor="middle" fill="#3f3f3f" textLength="10.0" lengthAdjust="spacingAndGlyphs" stroke="#3f3f3f" stroke-width="0.28">10</text>
<text x="350.38" y="732.9" font-size="10" font-weight="normal" text-anchor="middle" fill="#3f3f3f" textLength="5.0" lengthAdjust="spacingAndGlyphs" stroke="#3f3f3f" stroke-width="0.28">3</text>
<text x="350.38" y="749.7" font-size="10" font-weight="normal" text-anchor="middle" fill="#3f3f3f" textLength="5.0" lengthAdjust="spacingAndGlyphs" stroke="#3f3f3f" stroke-width="0.28">5</text>
<text x="377.44" y="732.9" font-size="10" font-weight="normal" text-anchor="middle" fill="#3f3f3f" textLength="5.0" lengthAdjust="spacingAndGlyphs" stroke="#3f3f3f" stroke-width="0.28">2</text>
<text x="377.44" y="749.7" font-size="10" font-weight="normal" text-anchor="middle" fill="#3f3f3f" textLength="5.0" lengthAdjust="spacingAndGlyphs" stroke="#3f3f3f" stroke-width="0.28">5</text>
<text x="404.5" y="732.9" font-size="10" font-weight="normal" text-anchor="middle" fill="#3f3f3f" textLength="5.0" lengthAdjust="spacingAndGlyphs" stroke="#3f3f3f" stroke-width="0.28">2</text>
<text x="404.5" y="749.7" font-size="10" font-weight="normal" text-anchor="middle" fill="#3f3f3f" textLength="5.0" lengthAdjust="spacingAndGlyphs" stroke="#3f3f3f" stroke-width="0.28">3</text>
<text x="431.55999999999995" y="732.9" font-size="10" font-weight="normal" text-anchor="middle" fill="#3f3f3f" textLength="5.0" lengthAdjust="spacingAndGlyphs" stroke="#3f3f3f" stroke-width="0.28">1</text>
<text x="431.55999999999995" y="749.7" font-size="10" font-weight="normal" text-anchor="middle" fill="#3f3f3f" textLength="5.0" lengthAdjust="spacingAndGlyphs" stroke="#3f3f3f" stroke-width="0.28">2</text>
<text x="458.62" y="732.9" font-size="10" font-weight="normal" text-anchor="middle" fill="#3f3f3f" textLength="5.0" lengthAdjust="spacingAndGlyphs" stroke="#3f3f3f" stroke-width="0.28">1</text>
<text x="458.62" y="749.7" font-size="10" font-weight="normal" text-anchor="middle" fill="#3f3f3f" textLength="5.0" lengthAdjust="spacingAndGlyphs" stroke="#3f3f3f" stroke-width="0.28">0</text>
<text x="485.67999999999995" y="732.9" font-size="10" font-weight="normal" text-anchor="middle" fill="#3f3f3f" textLength="5.0" lengthAdjust="spacingAndGlyphs" stroke="#3f3f3f" stroke-width="0.28">0</text>
<text x="485.67999999999995" y="749.7" font-size="10" font-weight="normal" text-anchor="middle" fill="#3f3f3f" textLength="5.0" lengthAdjust="spacingAndGlyphs" stroke="#3f3f3f" stroke-width="0.28">0</text>
<text x="160" y="776.0" font-size="11" font-weight="bold" text-anchor="start" fill="#424242" textLength="301" lengthAdjust="spacing">Median OS from start of subsequent Tx (95% CI), months</text>
<rect x="165" y="786.0" width="290.8" height="40.0" fill="none" stroke="#3a3a3a" stroke-width="1.4"/>
<path d="M165 805.6 H455.8 M310.4 786.0 V826" stroke="#3a3a3a" stroke-width="1.4"/>
<text x="169.4" y="799.3" font-size="10" font-weight="normal" text-anchor="start" fill="#3f3f3f" textLength="41.2" lengthAdjust="spacingAndGlyphs" stroke="#3f3f3f" stroke-width="0.28">Oral-AZA</text>
<text x="169.4" y="819.3" font-size="10" font-weight="normal" text-anchor="start" fill="#3f3f3f" textLength="19.2" lengthAdjust="spacingAndGlyphs" stroke="#3f3f3f" stroke-width="0.28">PBO</text>
<text x="383.1" y="799.3" font-size="10" font-weight="normal" text-anchor="middle" fill="#3f3f3f" textLength="58" lengthAdjust="spacingAndGlyphs" stroke="#3f3f3f" stroke-width="0.28">5.3 (4.1-7.4)</text>
<text x="383.1" y="819.3" font-size="10" font-weight="normal" text-anchor="middle" fill="#3f3f3f" textLength="58" lengthAdjust="spacingAndGlyphs" stroke="#3f3f3f" stroke-width="0.28">5.8 (4.0-7.4)</text>
<text x="2.9" y="853.1" font-size="9" font-weight="normal" text-anchor="start" fill="#3f3f3f" textLength="459.6" lengthAdjust="spacing" stroke="#3f3f3f" stroke-width="0.12">AML, acute myeloid leukemia; CI, confidence interval; KM, Kaplan-Meier; Oral-AZA, oral azacitidine;</text>
<text x="2.9" y="864.6" font-size="9" font-weight="normal" text-anchor="start" fill="#3f3f3f" textLength="283.3" lengthAdjust="spacing" stroke="#3f3f3f" stroke-width="0.12">OS, overall survival; PBO, placebo; pt, patient; Tx, treatment.</text>
</svg>
</body></html>
